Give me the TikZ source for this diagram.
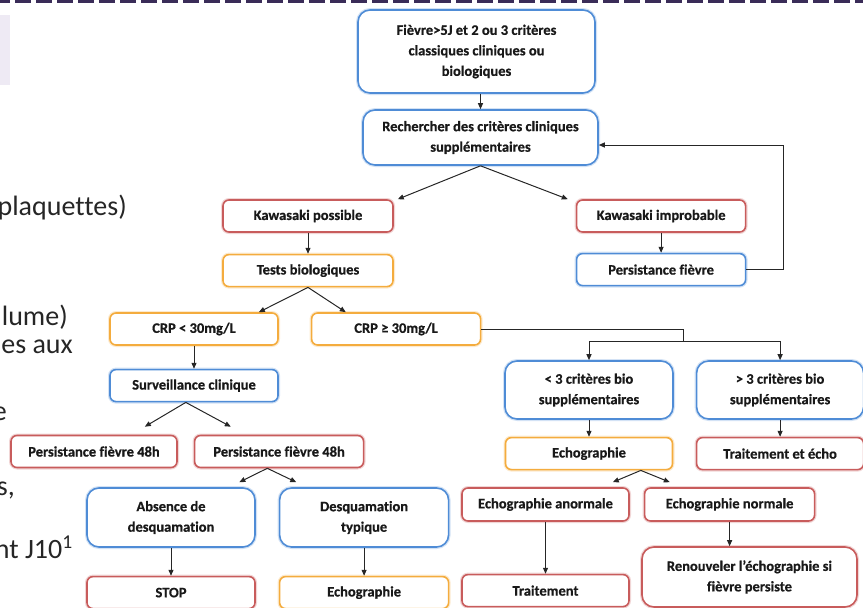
\documentclass[tikz,border=0pt]{standalone}
\usepackage{fontspec}
\setmainfont{Carlito}[Ligatures=NoCommon, BoldFeatures={FakeBold=0.6}]
\usetikzlibrary{arrows.meta, calc, positioning}
\definecolor{kwblue}{RGB}{79,140,214}
\definecolor{kwred}{RGB}{200,92,92}
\definecolor{kworange}{RGB}{244,172,62}
\definecolor{kwdash}{RGB}{58,44,88}
\definecolor{kwlav}{RGB}{238,234,244}
\tikzset{
  kwarrow/.style={-{Triangle[length=6pt,width=5pt]}, line width=1pt, draw=black!85},
  kwline/.style={line width=1pt, draw=black!85},
  kwbox/.style={rectangle, draw, line width=1.6pt, rounded corners=6pt, fill=white, align=center,
    inner sep=2pt, minimum width=168pt, minimum height=32pt,
    font=\bfseries\fontsize{14.5}{20.5}\selectfont, text=black!90},
  kwbig/.style={rounded corners=12pt},
  bluebox/.style={kwbox, draw=kwblue, preaction={draw=kwblue!25, line width=4pt}},
  redbox/.style={kwbox, draw=kwred, preaction={draw=kwred!25, line width=4pt}},
  orangebox/.style={kwbox, draw=kworange, preaction={draw=kworange!25, line width=4pt}},
  slidetext/.style={font=\fontsize{28}{34}\selectfont, text=black!85, inner sep=0pt, anchor=base east},
}
\begin{document}
\begin{tikzpicture}[x=1pt, y=-1pt]
  \useasboundingbox (0,0) rectangle (863,608);
  \clip (0,0) rectangle (863,608);

  % Slide background: dashed rule, side tab and cut-off text.
  \draw[kwdash, line width=3pt, dash pattern=on 16pt off 5pt, dash phase=6pt] (0,1.5) -- (863,1.5);
  \fill[kwlav] (0,15) rectangle (10,85);
  \node[slidetext] (txt_a) at (127,215) {plaquettes)};
  \node[slidetext] (txt_b) at (68,325) {lume)};
  \node[slidetext] (txt_c) at (73,353) {es aux};
  \node[slidetext] (txt_d) at (7,420) {e};
  \node[slidetext] (txt_e) at (15,495) {s,};
  \node[slidetext] (txt_f) at (73,558) {nt J10\textsuperscript{1}};

  % Entry and clinical search.
  \node[bluebox, kwbig, minimum width=237pt, minimum height=83pt] (fievre) at (476.5,51.5)
    {Fièvre>5J et 2 ou 3 critères\\classiques cliniques ou\\biologiques};
  \node[bluebox, kwbig, minimum width=235pt, minimum height=55pt] (recherche) at (480.5,137.5)
    {Rechercher des critères cliniques\\supplémentaires};

  % Possible / improbable branches.
  \node[redbox, minimum width=170pt] (kpos) at (308,216) {Kawasaki possible};
  \node[orangebox, minimum width=170pt, below=21pt of kpos] (tests) {Tests biologiques};
  \node[redbox, minimum width=169pt, right=182pt of kpos] (kimp) {Kawasaki improbable};
  \node[bluebox, minimum width=169pt, below=20pt of kimp] (pers) {Persistance fièvre};

  % CRP below the threshold.
  \node[orangebox] (crpinf) at (194,329) {CRP < 30mg/L};
  \node[orangebox, minimum width=169pt, right=32pt of crpinf] (crpsup) {CRP ≥ 30mg/L};
  \node[bluebox, below=23pt of crpinf] (surv) {Surveillance clinique};
  \node[redbox, minimum width=166pt] (pfa) at (94,451.5) {Persistance fièvre 48h};
  \node[redbox, minimum width=169pt, right=16pt of pfa] (pfb) {Persistance fièvre 48h};
  \node[bluebox, kwbig, minimum height=59pt] (absence) at (171,517.5) {Absence de\\desquamation};
  \node[bluebox, kwbig, minimum width=169pt, minimum height=59pt, right=23pt of absence] (desq)
    {Desquamation\\typique};
  \node[redbox, below=28pt of absence] (stop) {STOP};
  \node[orangebox, minimum width=169pt, below=28pt of desq] (echo_c) {Echographie};

  % CRP above the threshold.
  \node[bluebox, kwbig, minimum height=58pt] (inf3) at (589,390) {< 3 critères bio\\supplémentaires};
  \node[bluebox, kwbig, minimum width=167pt, minimum height=58pt, right=22pt of inf3] (sup3)
    {> 3 critères bio\\supplémentaires};
  \node[orangebox, minimum width=167pt, below=17pt of inf3] (echo_b) {Echographie};
  \node[redbox, minimum width=167pt, below=17pt of sup3] (traitecho) {Traitement et écho};
  \node[redbox, minimum width=167pt, minimum height=33pt] (anorm) at (545.5,504.5) {Echographie anormale};
  \node[redbox, minimum width=170pt, minimum height=33pt, right=14pt of anorm] (norm) {Echographie normale};
  \node[redbox, minimum width=167pt, below=52pt of anorm] (trait) {Traitement};
  \node[redbox, kwbig, minimum width=215pt, minimum height=60pt] (renouv) at (749.5,577)
    {Renouveler l’échographie si\\fièvre persiste};

  % Fork points between sibling boxes.
  \coordinate (gap_pf) at ($(pfa.north east)!0.5!(pfb.north west)$);
  \coordinate (gap_desq) at ($(absence.north east)!0.5!(desq.north west)$);
  \coordinate (gap_echo) at ($(anorm.north east)!0.5!(norm.north west)$);
  \coordinate (loop) at (783,145);
  \coordinate (split) at (683,341);

  % Edges.
  \draw[kwarrow] (recherche.north |- fievre.south) -- (recherche.north);
  \draw[kwarrow] (recherche.south) -- ($(kpos.north east)+(4,0)$);
  \draw[kwarrow] (recherche.south) -- ($(kimp.north west)+(-8,0)$);
  \draw[kwarrow] (kpos.south) -- (tests.north);
  \draw[kwarrow] (kimp.south) -- (pers.north);
  \draw[kwarrow] (pers.east) -| (loop) -- (loop -| recherche.east);

  \draw[kwarrow] (tests.south) -- ($(crpinf.north east)+(-20,0)$);
  \draw[kwarrow] (tests.south) -- ($(crpsup.north west)+(35,0)$);
  \draw[kwarrow] (crpinf.south) -- (surv.north);
  \draw[kwarrow] (gap_pf |- surv.south) -- ($(gap_pf)+(-41,-8)$);
  \draw[kwarrow] (gap_pf |- surv.south) -- ($(gap_pf)+(45,-8)$);
  \draw[kwarrow] (gap_desq |- pfb.south) -- ($(gap_desq)+(-28,-5)$);
  \draw[kwarrow] (gap_desq |- pfb.south) -- ($(gap_desq)+(29,-5)$);
  \draw[kwarrow] (absence.south) -- (stop.north);
  \draw[kwarrow] (desq.south) -- (echo_c.north);

  \draw[kwline] (crpsup.east) -| (split);
  \draw[kwarrow] (split) -| (inf3.north);
  \draw[kwarrow] (split) -| (sup3.north);
  \draw[kwarrow] (inf3.south) -- (echo_b.north);
  \draw[kwarrow] (sup3.south) -- (traitecho.north);
  \draw[kwarrow] ($(gap_echo |- echo_b.south)+(4,0)$) -- ($(gap_echo)+(-24,-5)$);
  \draw[kwarrow] ($(gap_echo |- echo_b.south)+(4,0)$) -- ($(gap_echo)+(33,-5)$);
  \draw[kwarrow] (anorm.south) -- (trait.north);
  \draw[kwarrow] (norm.south) -- (norm.south |- renouv.north);
\end{tikzpicture}
\end{document}
